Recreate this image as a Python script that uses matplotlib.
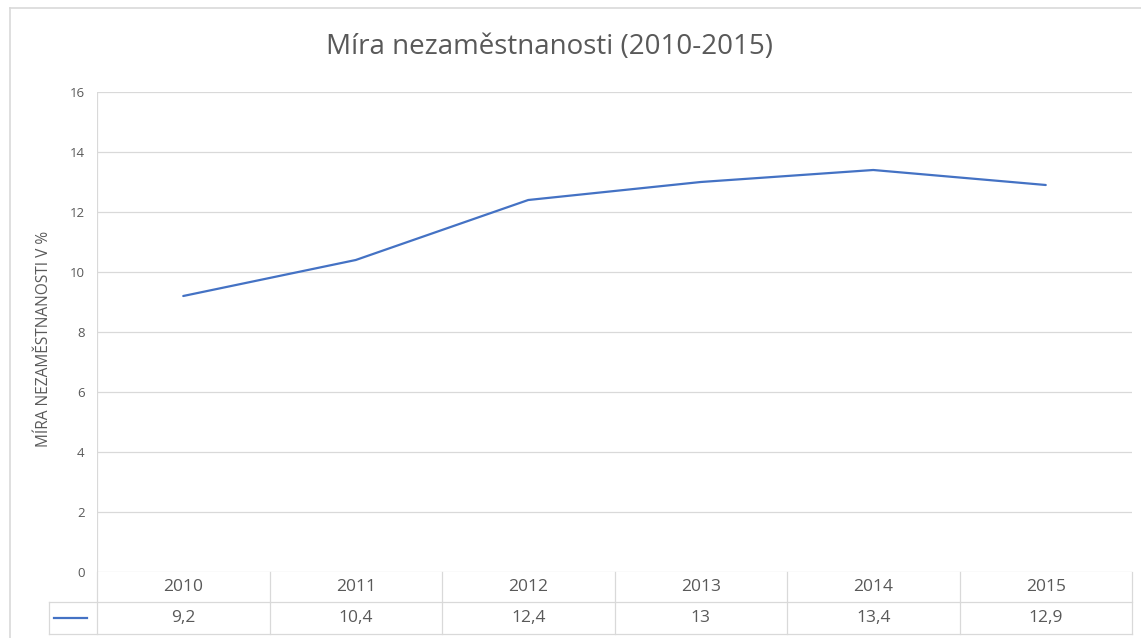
import matplotlib

matplotlib.use("Agg")
import matplotlib.pyplot as plt
from matplotlib.lines import Line2D
from matplotlib.transforms import blended_transform_factory

years = ["2010", "2011", "2012", "2013", "2014", "2015"]
rate = [9.2, 10.4, 12.4, 13.0, 13.4, 12.9]
rate_labels = ["9,2", "10,4", "12,4", "13", "13,4", "12,9"]
y_ticks = [0, 2, 4, 6, 8, 10, 12, 14, 16]

TXT = "#595959"
GRID = "#d9d9d9"
BLUE = "#4472c4"
W, H = 1141, 638

plt.rcParams["font.family"] = ["Open Sans", "DejaVu Sans"]

fig = plt.figure(figsize=(W / 100, H / 100), dpi=100)


def px(x0, y0, x1, y1):
    # pixel box (top-left origin) -> figure fraction rect
    return [x0 / W, 1 - y1 / H, (x1 - x0) / W, (y1 - y0) / H]


ax = fig.add_axes(px(97, 92, 1132, 572))
x = list(range(len(years)))
ax.plot(x, rate, color=BLUE, lw=1.6, solid_capstyle="round", zorder=3)
ax.set_xlim(-0.5, len(years) - 0.5)
ax.set_ylim(0, 16)
ax.set_yticks(y_ticks)
ax.set_yticklabels([str(t) for t in y_ticks], color=TXT, fontsize=9.5)
ax.tick_params(axis="y", length=0, pad=9)
ax.set_xticks([])
for s in ax.spines.values():
    s.set_visible(False)
for t in y_ticks:
    ax.axhline(t, color=GRID, lw=0.9, zorder=1)
ax.axvline(-0.5, color=GRID, lw=0.9, zorder=1)

ax.set_ylabel("MÍRA NEZAMĚSTNANOSTI V %", color=TXT, fontsize=11.2)
ax.yaxis.set_label_coords(-45 / 1035, 0.485)
fig.text(549 / W, 1 - 47 / H, "Míra nezaměstnanosti (2010-2015)",
         ha="center", va="center", color=TXT, fontsize=20)

# data table under the plot
tr = blended_transform_factory(ax.transData, ax.transAxes)
row = 30 / 480
legend_x = -0.5 - 48 / (1035 / 6)
kw = dict(color=GRID, lw=0.9, transform=tr, clip_on=False)
ax.add_line(Line2D([legend_x, 5.5], [-row, -row], **kw))
ax.add_line(Line2D([legend_x, 5.5], [-2.07 * row, -2.07 * row], **kw))
ax.add_line(Line2D([legend_x, legend_x], [-row, -2.07 * row], **kw))
for i in range(len(years) + 1):
    ax.add_line(Line2D([i - 0.5, i - 0.5], [0, -2.07 * row], **kw))
for i, (yr, lab) in enumerate(zip(years, rate_labels)):
    ax.text(i, -0.5 * row, yr, transform=tr, ha="center", va="center",
            color=TXT, fontsize=12.5)
    ax.text(i, -1.55 * row, lab, transform=tr, ha="center", va="center",
            color=TXT, fontsize=12.5)
ax.add_line(Line2D([legend_x + 0.03, -0.56], [-1.52 * row, -1.52 * row],
                   color=BLUE, lw=1.6, transform=tr, clip_on=False))

# outer chart frame (cropped on right and bottom)
fig.add_artist(Line2D([10 / W, 1], [1 - 8 / H, 1 - 8 / H], color=GRID, lw=1.2))
fig.add_artist(Line2D([10 / W, 10 / W], [0, 1 - 8 / H], color=GRID, lw=1.2))

fig.savefig("out.png", dpi=100)
